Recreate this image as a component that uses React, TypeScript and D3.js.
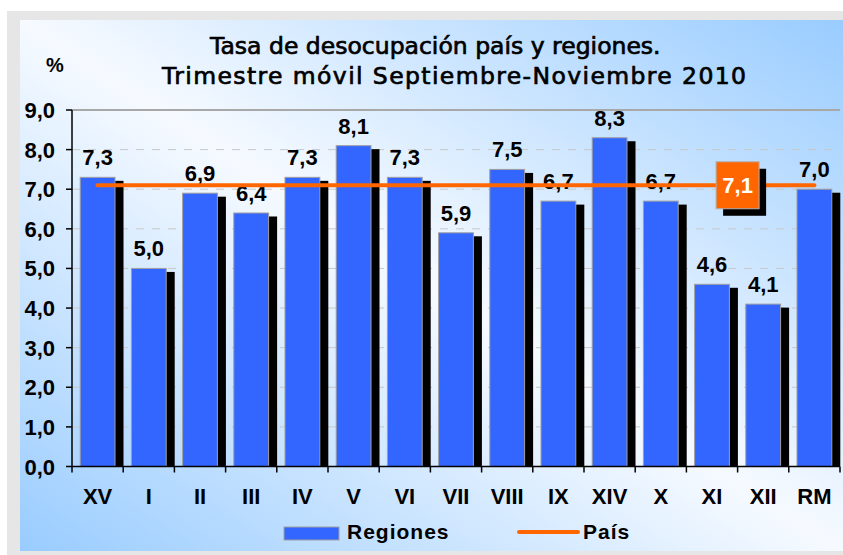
import { scaleBand, scaleLinear } from 'd3';

const categories = ['XV', 'I', 'II', 'III', 'IV', 'V', 'VI', 'VII', 'VIII', 'IX', 'XIV', 'X', 'XI', 'XII', 'RM'];
const regiones = [7.3, 5.0, 6.9, 6.4, 7.3, 8.1, 7.3, 5.9, 7.5, 6.7, 8.3, 6.7, 4.6, 4.1, 7.0];
const pais = 7.1;
const yTicks = [0, 1, 2, 3, 4, 5, 6, 7, 8, 9];
const titleLines = ['Tasa de desocupación país y regiones.', 'Trimestre móvil Septiembre-Noviembre 2010'];

const fmt = (v: number) => v.toFixed(1).replace('.', ',');

export default function App() {
  const width = 843;
  const height = 555;
  const plot = { left: 72, right: 840, top: 110, bottom: 466.5 };

  const x = scaleBand<string>().domain(categories).range([plot.left, plot.right]).padding(0);
  const y = scaleLinear().domain([0, 9]).range([plot.bottom, plot.top]);
  const barW = x.bandwidth() * 0.68;
  const shadow = { dx: 8.5, dy: 3.5 };
  const labelFont = '"Liberation Sans", Arial, sans-serif';

  // title lines: start x, and the second one is spaced wider like the original
  const titlePos = [
    { x: 210, w: 0 },
    { x: 162, w: 584 },
  ];

  const first = categories[0];
  const last = categories[categories.length - 1];
  const lineX1 = (x(first) || 0) + x.bandwidth() / 2;
  const lineX2 = (x(last) || 0) + x.bandwidth() / 2;
  const boxCx = x('XII') || 0;
  const boxCy = y(pais);

  return (
    <div style={{ position: 'absolute', left: 0, top: 0 }}>
      <svg width={width} height={height} viewBox={`0 0 ${width} ${height}`} style={{ display: 'block' }}>
        <defs>
          <linearGradient id="bg" x1="0" y1="1" x2="1" y2="0">
            <stop offset="0" stopColor="#99ccff" />
            <stop offset="0.5" stopColor="#f6faff" />
            <stop offset="1" stopColor="#99ccff" />
          </linearGradient>
        </defs>
        <rect x={0} y={0} width={width} height={height} fill="#ffffff" />
        <rect x={7} y={11} width={width - 7} height={height - 11} fill="#e6e6e6" />
        <rect x={20} y={20} width={width - 20} height={531} fill="url(#bg)" />

        {titleLines.map((t, i) => (
          <text
            key={t}
            x={titlePos[i].x}
            y={54 + i * 30}
            textLength={titlePos[i].w || undefined}
            lengthAdjust={titlePos[i].w ? 'spacing' : undefined}
            fontFamily='"DejaVu Sans", Verdana, sans-serif'
            fontSize={23.5}
            fill="#000"
            stroke="#000"
            strokeWidth={0.7}
          >
            {t}
          </text>
        ))}
        <text x={55} y={72} textAnchor="middle" fontFamily={labelFont} fontWeight="bold" fontSize={20}>
          %
        </text>

        {yTicks.slice(1, -1).map((t) => (
          <line
            key={`g${t}`}
            x1={plot.left}
            x2={plot.right}
            y1={y(t)}
            y2={y(t)}
            stroke="#c8c8c8"
            strokeWidth={1}
            strokeDasharray="8,8"
          />
        ))}
        <line x1={plot.left} x2={plot.right} y1={plot.top} y2={plot.top} stroke="#a8a8a8" strokeWidth={2} />

        {categories.map((c, i) => {
          const bx = (x(c) || 0) + (x.bandwidth() - barW) / 2;
          const top = y(regiones[i]);
          return (
            <g key={c}>
              <rect x={bx + shadow.dx} y={top + shadow.dy} width={barW} height={plot.bottom - top - shadow.dy} fill="#000" />
              <rect x={bx} y={top} width={barW} height={plot.bottom - top} fill="#3366ff" stroke="#a0a0a0" strokeWidth={1} />
              <text
                x={bx + barW / 2}
                y={top - 12}
                textAnchor="middle"
                fontFamily={labelFont}
                fontWeight="bold"
                fontSize={22}
                fill="#000"
              >
                {fmt(regiones[i])}
              </text>
            </g>
          );
        })}

        <line x1={lineX1} x2={lineX2} y1={y(pais)} y2={y(pais)} stroke="#ff6600" strokeWidth={4} strokeLinecap="round" />

        <rect x={boxCx - 21.5 + 7} y={boxCy - 23.5 + 7} width={43} height={47} fill="#000" />
        <rect x={boxCx - 21.5} y={boxCy - 23.5} width={43} height={47} fill="#ff6600" stroke="#b0b0b0" strokeWidth={1} />
        <text x={boxCx} y={boxCy + 8} textAnchor="middle" fontFamily={labelFont} fontWeight="bold" fontSize={22} fill="#fff">
          {fmt(pais)}
        </text>

        <line x1={plot.left} x2={plot.left} y1={plot.top} y2={plot.bottom} stroke="#000" strokeWidth={1.5} />
        <line x1={plot.left} x2={plot.right} y1={plot.bottom} y2={plot.bottom} stroke="#000" strokeWidth={1.5} />
        {yTicks.map((t) => (
          <g key={`y${t}`}>
            <line x1={plot.left - 6} x2={plot.left} y1={y(t)} y2={y(t)} stroke="#000" strokeWidth={1.5} />
            <text x={55} y={y(t) + 8} textAnchor="end" fontFamily={labelFont} fontWeight="bold" fontSize={22}>
              {fmt(t)}
            </text>
          </g>
        ))}
        {categories.map((c) => (
          <g key={`x${c}`}>
            <line x1={(x(c) || 0) + x.bandwidth()} x2={(x(c) || 0) + x.bandwidth()} y1={plot.bottom} y2={plot.bottom + 6} stroke="#000" strokeWidth={1.5} />
            <text x={(x(c) || 0) + x.bandwidth() / 2} y={504} textAnchor="middle" fontFamily={labelFont} fontWeight="bold" fontSize={22}>
              {c}
            </text>
          </g>
        ))}
        <line x1={plot.left} x2={plot.left} y1={plot.bottom} y2={plot.bottom + 6} stroke="#000" strokeWidth={1.5} />

        <rect x={284} y={527} width={55} height={13} fill="#3366ff" stroke="#a0a0a0" strokeWidth={1} />
        <text x={347} y={539} fontFamily={labelFont} fontWeight="bold" fontSize={21} letterSpacing={1}>
          Regiones
        </text>
        <line x1={519} x2={578} y1={532} y2={532} stroke="#ff6600" strokeWidth={4} strokeLinecap="round" />
        <text x={583} y={539} fontFamily={labelFont} fontWeight="bold" fontSize={21} letterSpacing={1}>
          País
        </text>
      </svg>
    </div>
  );
}
